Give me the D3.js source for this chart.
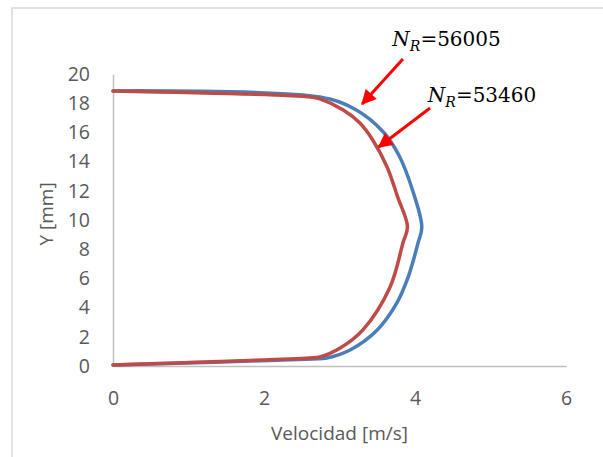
<!DOCTYPE html>
<html>
<head>
<meta charset="utf-8">
<script src="https://cdn.jsdelivr.net/npm/d3@7"></script>
<style>
  body { margin: 0; background: #fff; }
  svg { display: block; }
</style>
</head>
<body>
<script>
// data: velocity [m/s] at height Y [mm]
const yBlue = [0.07, 0.48, 0.55, 1.1, 2.47, 4.32, 6.1, 8.42, 9.52, 12.0, 14.4, 16.03, 17.6, 18.42, 18.84];
const vBlue = [0, 2.65, 2.83, 3.14, 3.5, 3.76, 3.91, 4.04, 4.09, 3.97, 3.79, 3.58, 3.2, 2.74, 0];

const yRed = [0.07, 0.55, 0.62, 1.23, 2.47, 5.41, 8.42, 9.54, 11.58, 13.63, 15.48, 16.64, 17.53, 18.29, 18.42, 18.84];
const vRed = [0, 2.6, 2.74, 3.01, 3.31, 3.67, 3.84, 3.9, 3.77, 3.63, 3.44, 3.27, 3.05, 2.74, 2.62, 0];

const xTicks = [0, 2, 4, 6];
const yTicks = [0, 2, 4, 6, 8, 10, 12, 14, 16, 18, 20];
const labels = ["56005", "53460"];

const width = 603, height = 457;

const svg = d3.select("body").append("svg")
  .attr("width", width)
  .attr("height", height);

// chart frame
svg.append("rect")
  .attr("x", 12).attr("y", 8)
  .attr("width", 620).attr("height", 480)
  .attr("fill", "none")
  .attr("stroke", "#d9d9d9")
  .attr("stroke-width", 1.5);

const x = d3.scaleLinear().domain([0, 6]).range([113, 566]);
const y = d3.scaleLinear().domain([0, 20]).range([366, 74]);

// axes
const xAxis = svg.append("g")
  .attr("transform", `translate(0,${y(0)})`)
  .call(d3.axisBottom(x).tickValues(xTicks).tickFormat(d3.format("d")).tickSize(0).tickPadding(25));
const yAxis = svg.append("g")
  .attr("transform", `translate(${x(0)},0)`)
  .call(d3.axisLeft(y).tickValues(yTicks).tickFormat(d3.format("d")).tickSize(0).tickPadding(23));

[xAxis, yAxis].forEach(g => {
  g.select(".domain").attr("stroke", "#bfbfbf").attr("stroke-width", 1.5);
  g.selectAll("text")
    .attr("fill", "#595959")
    .style("font-family", "'Open Sans', sans-serif")
    .style("font-size", "19.5px");
});

svg.append("text")
  .attr("x", (x(0) + x(6)) / 2)
  .attr("y", 440)
  .attr("text-anchor", "middle")
  .attr("fill", "#595959")
  .style("font-family", "'Open Sans', sans-serif")
  .style("font-size", "19px")
  .text("Velocidad [m/s]");

svg.append("text")
  .attr("transform", `translate(53,${(y(0) + y(20)) / 2 - 6}) rotate(-90)`)
  .attr("text-anchor", "middle")
  .attr("fill", "#595959")
  .style("font-family", "'Open Sans', sans-serif")
  .style("font-size", "19px")
  .text("Y [mm]");

// profiles
const line = d3.line()
  .x(d => x(d[0]))
  .y(d => y(d[1]))
  .curve(d3.curveCatmullRom.alpha(0.5));

const series = [
  { v: vBlue, yy: yBlue, color: "#4a7ebb" },
  { v: vRed, yy: yRed, color: "#be4b48" }
];

svg.selectAll("path.profile")
  .data(series)
  .enter()
  .append("path")
  .attr("class", "profile")
  .attr("d", s => line(s.v.map((v, i) => [v, s.yy[i]])))
  .attr("fill", "none")
  .attr("stroke", s => s.color)
  .attr("stroke-width", 3.5)
  .attr("stroke-linejoin", "round")
  .attr("stroke-linecap", "round");

// annotations with arrows
svg.append("defs").append("marker")
  .attr("id", "head")
  .attr("viewBox", "0 0 10 10")
  .attr("refX", 9).attr("refY", 5)
  .attr("markerWidth", 5.5).attr("markerHeight", 5)
  .attr("markerUnits", "strokeWidth")
  .attr("orient", "auto")
  .append("path")
  .attr("d", "M0,0 L10,5 L0,10 Z")
  .attr("fill", "#ff0000");

const notes = [
  { text: labels[0], tx: 3.70, ty: 21.92, from: [3.84, 21.03], to: [3.30, 17.95] },
  { text: labels[1], tx: 4.17, ty: 18.08, from: [4.20, 17.67], to: [3.52, 15.0] }
];

notes.forEach(n => {
  svg.append("line")
    .attr("x1", x(n.from[0])).attr("y1", y(n.from[1]))
    .attr("x2", x(n.to[0])).attr("y2", y(n.to[1]))
    .attr("stroke", "#ff0000")
    .attr("stroke-width", 3)
    .attr("marker-end", "url(#head)");

  const t = svg.append("text")
    .attr("x", x(n.tx))
    .attr("y", y(n.ty))
    .attr("fill", "#000")
    .style("font-family", "'DejaVu Serif', serif")
    .style("font-size", "20px");
  t.append("tspan").style("font-style", "italic").text("N");
  t.append("tspan").style("font-style", "italic").style("font-size", "14px")
    .attr("dy", 5).text("R");
  t.append("tspan").attr("dy", -5).text("=" + n.text);
});
</script>
</body>
</html>
